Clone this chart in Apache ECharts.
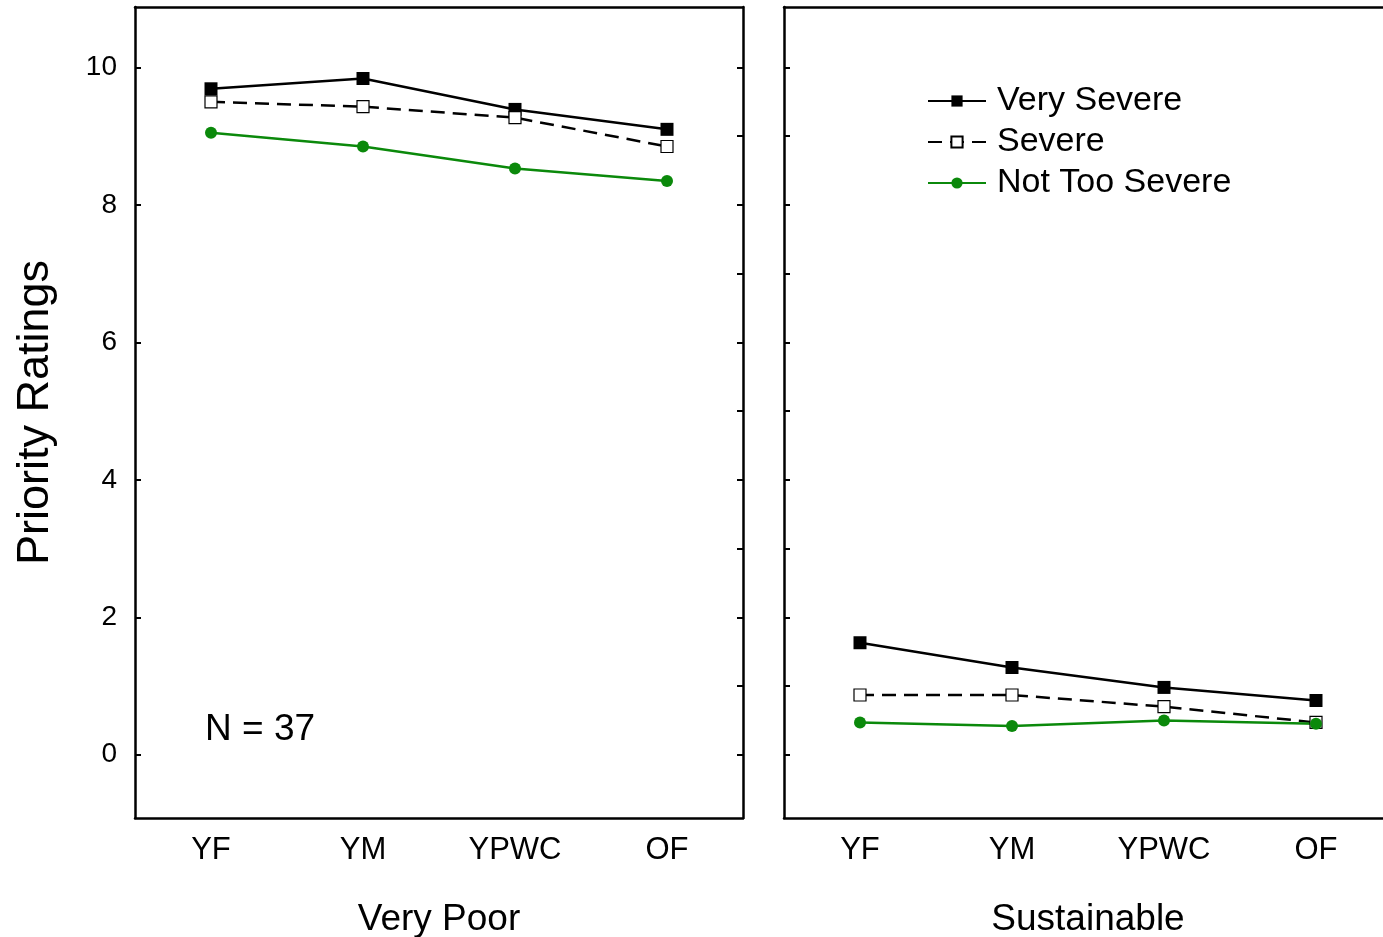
<!DOCTYPE html>
<html>
<head>
<meta charset="utf-8">
<style>
  html, body { margin: 0; padding: 0; background: #fff; overflow: hidden; }
  #chart { width: 1400px; height: 937px; }
</style>
<script src="https://cdn.jsdelivr.net/npm/echarts@6/dist/echarts.min.js"></script>
</head>
<body>
<div id="chart"></div>
<script>
// categories and panels
var categories = ['YF', 'YM', 'YPWC', 'OF'];
var panelNames = ['Very Poor', 'Sustainable'];
var seriesNames = ['Very Severe', 'Severe', 'Not Too Severe'];

// values, panel "Very Poor"
var veryPoorVerySevere = [9.69, 9.84, 9.39, 9.10];
var veryPoorSevere = [9.50, 9.43, 9.27, 8.85];
var veryPoorNotTooSevere = [9.05, 8.85, 8.53, 8.35];

// panel "Sustainable"
var sustVerySevere = [1.63, 1.27, 0.98, 0.79];
var sustSevere = [0.87, 0.87, 0.70, 0.47];
var sustNotTooSevere = [0.47, 0.42, 0.50, 0.45];

// tick labels
var yLabelTicks = [0, 2, 4, 6, 8, 10];
var yMinorTicks = [0, 1, 2, 3, 4, 5, 6, 7, 8, 9, 10];

var FONT = "'Liberation Sans', Arial, sans-serif";
var GREEN = '#0b890b';
var yMin = -0.92, yMax = 10.88;

var chart = echarts.init(document.getElementById('chart'));

function bottomAxis(grid, name) {
  return {
    type: 'category', gridIndex: grid, position: 'bottom', data: categories,
    boundaryGap: true,
    name: name, nameLocation: 'middle', nameGap: 83,
    nameTextStyle: { fontFamily: FONT, fontSize: 37, color: '#000' },
    axisLine: { onZero: false, lineStyle: { color: '#000', width: 2.5 } },
    axisTick: { inside: true, alignWithLabel: true, length: 6, lineStyle: { color: '#000', width: 2 } },
    axisLabel: { margin: 17, fontFamily: FONT, fontSize: 31, color: '#000' },
    splitLine: { show: false }
  };
}
function topAxis(grid) {
  return {
    type: 'category', gridIndex: grid, position: 'top', data: categories,
    boundaryGap: true,
    axisLine: { onZero: false, lineStyle: { color: '#000', width: 2.5 } },
    axisTick: { inside: true, alignWithLabel: true, length: 6, lineStyle: { color: '#000', width: 2 } },
    axisLabel: { show: false },
    splitLine: { show: false }
  };
}
function valAxis(grid, pos, labelled, ticks) {
  var ax = {
    type: 'value', gridIndex: grid, position: pos, min: yMin, max: yMax,
    axisLine: { show: true, onZero: false, lineStyle: { color: '#000', width: 2.5 } },
    axisTick: { show: true, inside: true, length: 6, customValues: ticks, lineStyle: { color: '#000', width: 2 } },
    axisLabel: { show: labelled, customValues: ticks, margin: 18, fontFamily: FONT, fontSize: 28, color: '#000' },
    splitLine: { show: false }
  };
  if (labelled) {
    ax.name = 'Priority Ratings';
    ax.nameLocation = 'middle';
    ax.nameGap = 77;
    ax.nameTextStyle = { fontFamily: FONT, fontSize: 45, color: '#000' };
  }
  return ax;
}

function lineSeries(name, data, axisIdx) {
  var s = {
    name: name, type: 'line', data: data,
    xAxisIndex: axisIdx, yAxisIndex: axisIdx,
    symbolSize: 13, animation: false
  };
  if (name === 'Very Severe') {
    s.symbol = 'rect';
    s.itemStyle = { color: '#000' };
    s.lineStyle = { color: '#000', width: 2.5 };
  } else if (name === 'Severe') {
    s.symbol = 'rect';
    s.symbolSize = 12;
    s.itemStyle = { color: '#fff', borderColor: '#000', borderWidth: 1.2 };
    s.lineStyle = { color: '#000', width: 2.5, type: [14, 8] };
  } else {
    s.symbol = 'circle';
    s.symbolSize = 12;
    s.itemStyle = { color: GREEN };
    s.lineStyle = { color: GREEN, width: 2.5 };
  }
  return s;
}

var option = {
  backgroundColor: '#fff',
  animation: false,
  textStyle: { fontFamily: FONT },
  grid: [
    { left: 135, top: 7, width: 608, height: 811, outerBoundsMode: 'none' },
    { left: 784, top: 7, width: 608, height: 811, outerBoundsMode: 'none' }
  ],
  legend: {
    orient: 'vertical', left: 922, top: 79,
    itemWidth: 58, itemHeight: 14, itemGap: 7,
    data: seriesNames,
    textStyle: { fontFamily: FONT, fontSize: 34, color: '#000', padding: [0, 0, 0, 6] }
  },
  xAxis: [
    bottomAxis(0, panelNames[0]), topAxis(0),
    bottomAxis(1, panelNames[1]), topAxis(1)
  ],
  yAxis: [
    valAxis(0, 'left', true, yLabelTicks),
    valAxis(0, 'right', false, yMinorTicks),
    valAxis(1, 'left', false, yMinorTicks),
    valAxis(1, 'right', false, yMinorTicks)
  ],
  graphic: [
    { type: 'text', left: 205, top: 711,
      style: { text: 'N = 37', font: '37px ' + FONT, fill: '#000' } }
  ],
  series: [
    lineSeries('Very Severe', veryPoorVerySevere, 0),
    lineSeries('Severe', veryPoorSevere, 0),
    lineSeries('Not Too Severe', veryPoorNotTooSevere, 0),
    lineSeries('Very Severe', sustVerySevere, 2),
    lineSeries('Severe', sustSevere, 2),
    lineSeries('Not Too Severe', sustNotTooSevere, 2)
  ]
};

chart.setOption(option);
</script>
</body>
</html>
